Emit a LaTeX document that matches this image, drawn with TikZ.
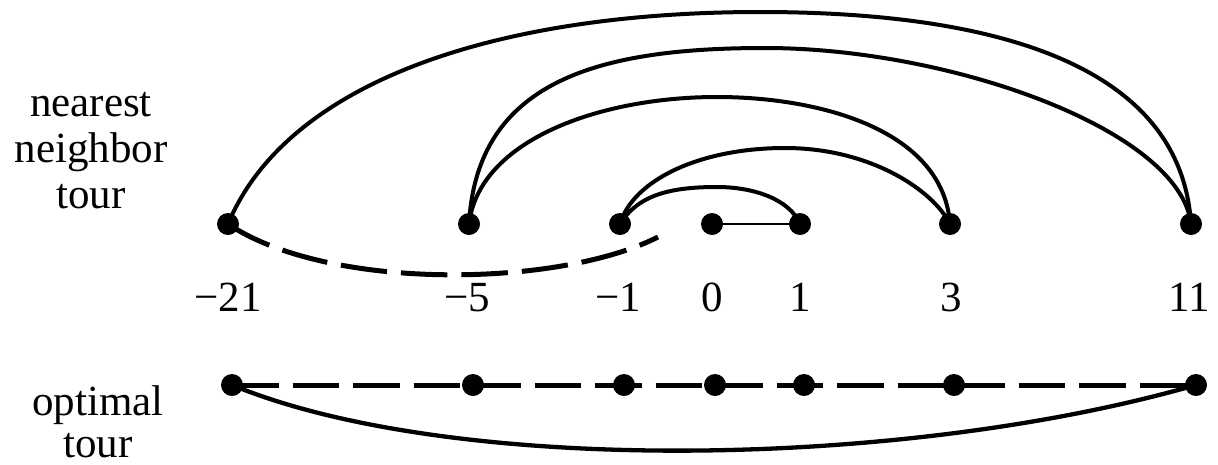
\documentclass[tikz,border=0pt]{standalone}
\usepackage{fontspec}
\setmainfont{Liberation Serif}
\begin{document}
\begin{tikzpicture}[x=1pt,y=-1pt,
  dot/.style={circle,fill=black,inner sep=0pt,minimum size=22pt},
  arc/.style={line width=4pt},
  thin edge/.style={line width=2.7pt},
  dash edge/.style={line width=5pt,dash pattern=on 46.5pt off 14pt},
  lowarc/.style={line width=4.3pt},
  txt/.style={inner sep=0pt,anchor=base},
  num/.style={inner sep=0pt,anchor=base,font=\fontsize{43}{46}\selectfont}
]
\useasboundingbox (0,0) rectangle (1218,464);
% top row (nearest neighbor tour)
\node[dot] (tm21) at (228,224) {};
\node[dot] (tm5)  at (469,224) {};
\node[dot] (tm1)  at (620,224) {};
\node[dot] (t0)   at (712,224) {};
\node[dot] (t1)   at (800,224) {};
\node[dot] (t3)   at (950,224) {};
\node[dot] (t11)  at (1191,224) {};
\coordinate (dend) at (658,237);
% bottom row (optimal tour)
\node[dot] (bm21) at (232,385) {};
\node[dot] (bm5)  at (473,385) {};
\node[dot] (bm1)  at (624,385) {};
\node[dot] (b0)   at (715,385) {};
\node[dot] (b1)   at (804,385) {};
\node[dot] (b3)   at (954,385) {};
\node[dot] (b11)  at (1196,385) {};
% labels
\node[num] (lm21) at (228,311) {−21};
\node[num] (lm5)  at (467,311) {−5};
\node[num] (lm1)  at (618,311) {−1};
\node[num] (l0)   at (712,311) {0};
\node[num] (l1)   at (800,311) {1};
\node[num] (l3)   at (951,311) {3};
\node[num] (l11)  at (1189,311) {11};
\node[txt] (nnlabel) at (91,116) {\fontsize{43}{46}\selectfont\begin{tabular}[t]{@{}c@{}}nearest\\neighbor\\tour\end{tabular}};
\node[txt] (optlabel) at (98,415) {\fontsize{43}{42}\selectfont\begin{tabular}[t]{@{}c@{}}optimal\\tour\end{tabular}};
% nearest neighbor tour edges
\draw[thin edge] (t0.center) -- (t1.center);
\draw[arc] (t1.center) .. controls (790,200) and (755,187) .. (717,187)
  .. controls (670,187) and (638,195) .. (tm1.center);
\draw[arc] (tm1.center) .. controls (633,180) and (700,148) .. (785,148)
  .. controls (870,148) and (933,190) .. (t3.center);
\draw[arc] (t3.center) .. controls (943,130) and (820,97) .. (717,97)
  .. controls (600,97) and (479,140) .. (tm5.center);
\draw[arc] (tm5.center) .. controls (477,80) and (600,48) .. (765,48)
  .. controls (950,48) and (1180,130) .. (t11.center);
\draw[arc] (t11.center) .. controls (1180,50) and (960,12) .. (760,12)
  .. controls (500,12) and (288,80) .. (tm21.center);
\draw[dash edge] (tm21.center) .. controls (330,292) and (560,287) .. (dend);
% optimal tour edges
\draw[dash edge] (bm21.center) -- (bm5.center) -- (bm1.center) -- (b0.center)
  -- (b1.center) -- (b3.center) -- (b11.center);
\draw[lowarc] (bm21.center) .. controls (450,475) and (900,470) .. (b11.center);
\end{tikzpicture}
\end{document}
